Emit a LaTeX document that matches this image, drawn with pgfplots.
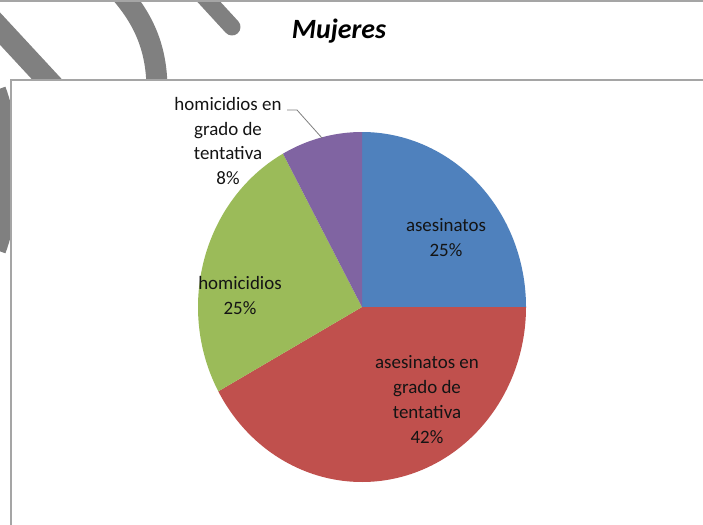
\documentclass[border=0pt]{standalone}
\usepackage{pgfplots}
\pgfplotsset{compat=1.18}
\usepackage{pgfplotstable}
\usepackage{fontspec}
\setmainfont{Carlito}
\definecolor{pieblue}{HTML}{4F81BD}
\definecolor{piered}{HTML}{C0504D}
\definecolor{piegreen}{HTML}{9BBB59}
\definecolor{piepurple}{HTML}{8064A2}
\definecolor{swoosh}{HTML}{808080}
\definecolor{framec}{HTML}{A5A5A5}

\pgfplotstableread{
label value
asesinatos 25
asesinatos_tentativa 42
homicidios 25
homicidios_tentativa 8
}\piedata
\pgfplotstablegetelem{0}{value}\of\piedata\let\vA\pgfplotsretval
\pgfplotstablegetelem{1}{value}\of\piedata\let\vB\pgfplotsretval
\pgfplotstablegetelem{2}{value}\of\piedata\let\vC\pgfplotsretval
\pgfplotstablegetelem{3}{value}\of\piedata\let\vD\pgfplotsretval
\pgfmathsetmacro\tot{\vA+\vB+\vC+\vD}
\pgfmathsetmacro\aA{90}
\pgfmathsetmacro\aB{\aA-360*\vA/\tot}
\pgfmathsetmacro\aC{\aB-360*\vB/\tot}
\pgfmathsetmacro\aD{\aC-360*\vC/\tot}
\pgfmathsetmacro\aE{\aD-360*\vD/\tot}

\begin{document}
\begin{tikzpicture}[x=1bp,y=-1bp]
\clip (0,0) rectangle (703,525);
\fill[white] (0,0) rectangle (703,525);
% decorative swooshes
\draw[swoosh, line width=21bp] (118,-10) .. controls (145,20) and (157,50) .. (157,90);
\draw[swoosh, line width=17bp, line cap=round] (198,-10) -- (232,27);
\draw[swoosh, line width=22bp] (-8,20) -- (55,88);
\draw[swoosh, line width=20bp] (-4,90) .. controls (14,140) and (14,200) .. (-4,250);
% frame
\fill[white] (11,80) rectangle (710,530);
\draw[framec, line width=2bp] (0,1) -- (703,1);
\draw[framec, line width=2bp] (11,530) -- (11,80) -- (703,80);
% title
\node[font=\fontsize{28}{32}\selectfont\bfseries\itshape] at (339,31) {Mujeres};
\begin{axis}[
  at={(0,525)}, anchor=south west,
  x=1bp, y=1bp, xmin=0, xmax=703, ymin=0, ymax=525,
  y dir=reverse, hide axis, clip=false,
]
\addplot[draw=none, fill=pieblue, domain=\aB:\aA, samples=91]
  ({362+164*cos(x)}, {307-175*sin(x)}) -- (axis cs:362,307) -- cycle;
\addplot[draw=none, fill=piered, domain=\aC:\aB, samples=151]
  ({362+164*cos(x)}, {307-175*sin(x)}) -- (axis cs:362,307) -- cycle;
\addplot[draw=none, fill=piegreen, domain=\aD:\aC, samples=91]
  ({362+164*cos(x)}, {307-175*sin(x)}) -- (axis cs:362,307) -- cycle;
\addplot[draw=none, fill=piepurple, domain=\aE:\aD, samples=41]
  ({362+164*cos(x)}, {307-175*sin(x)}) -- (axis cs:362,307) -- cycle;
\draw[gray, line width=0.8bp] (axis cs:287,110) -- (axis cs:297,110) -- (axis cs:322,138);
\begin{scope}[every node/.style={align=center, text=black!92, font=\fontsize{19}{25}\selectfont}]
\node at (axis cs:446,238) {asesinatos\\25\%};
\node at (axis cs:427,399.5) {asesinatos en\\grado de\\tentativa\\42\%};
\node at (axis cs:240,295.5) {homicidios\\25\%};
\node at (axis cs:228,141) {homicidios en\\grado de\\tentativa\\8\%};
\end{scope}
\end{axis}
\end{tikzpicture}
\end{document}
